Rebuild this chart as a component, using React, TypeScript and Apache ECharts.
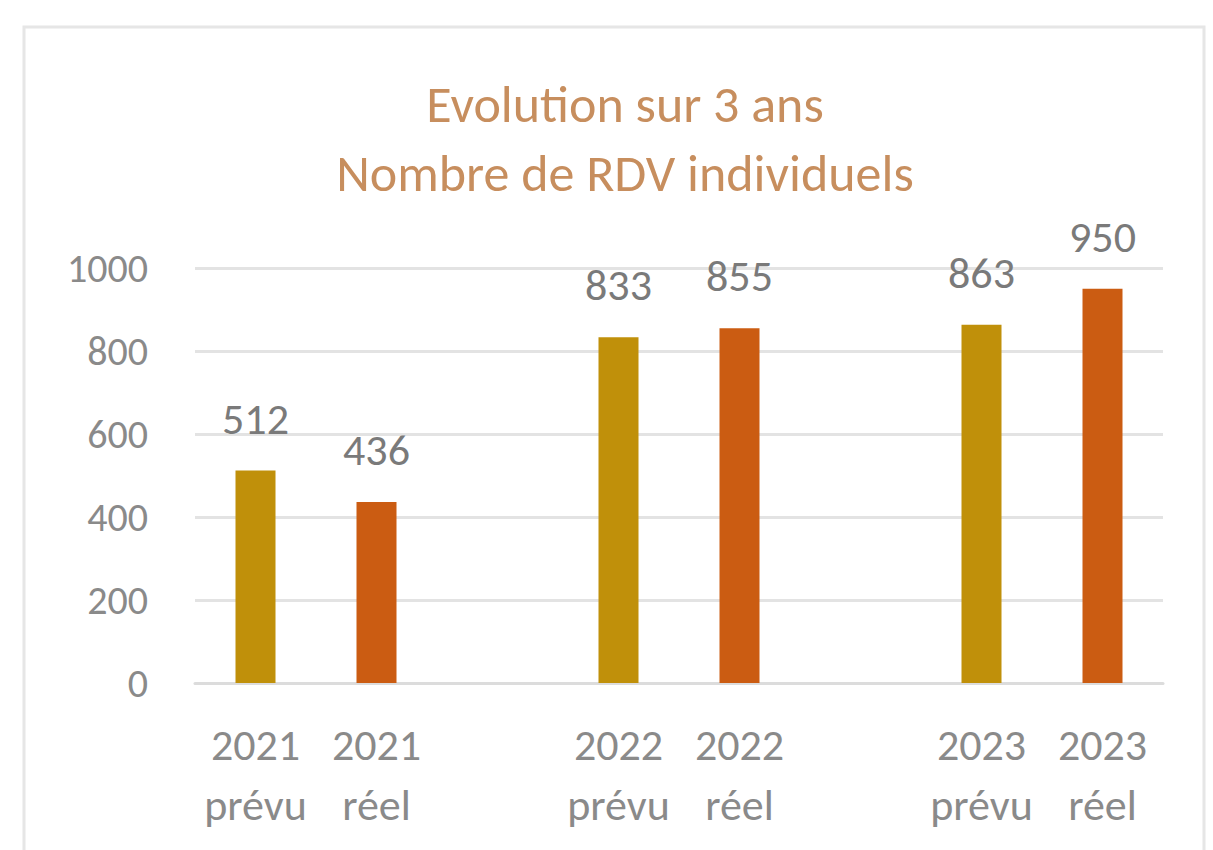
import React, { useEffect, useRef } from "react";
import * as echarts from "echarts";

const categories = ["2021\nprévu", "2021\nréel", "", "2022\nprévu", "2022\nréel", "", "2023\nprévu", "2023\nréel"];
const values: (number | null)[] = [512, 436, null, 833, 855, null, 863, 950];
const kinds = ["prevu", "reel", "", "prevu", "reel", "", "prevu", "reel"];
const yTicks = [0, 200, 400, 600, 800, 1000];
const titleLines = ["Evolution sur 3 ans", "Nombre de RDV individuels"];

const COLORS: Record<string, string> = { prevu: "#C0900A", reel: "#CB5C12" };
const FONT = "Carlito, Lato, 'Noto Sans', sans-serif";

export default function App() {
  const ref = useRef<HTMLDivElement>(null);
  useEffect(() => {
    if (!ref.current) return;
    const chart = echarts.init(ref.current, undefined, { renderer: "svg" });
    chart.setOption({
      animation: false,
      backgroundColor: "#ffffff",
      graphic: [
        {
          type: "rect",
          shape: { x: 24, y: 27, width: 1180, height: 840 },
          style: { fill: "none", stroke: "#e6e6e6", lineWidth: 3 },
          silent: true,
        },
      ],
      title: {
        text: titleLines.join("\n"),
        left: 620,
        textAlign: "center",
        top: 64,
        textStyle: {
          fontFamily: FONT,
          fontSize: 52,
          fontWeight: "normal",
          color: "#C78E5E",
          lineHeight: 69,
        },
      },
      grid: { left: 195, right: 50, top: 268, bottom: 167, containLabel: false },
      xAxis: {
        type: "category",
        data: categories,
        axisLine: { show: true, lineStyle: { color: "#dcdcdc", width: 3 } },
        axisTick: { show: false },
        axisLabel: {
          interval: 0,
          fontFamily: FONT,
          fontSize: 44,
          color: "#8a8a8a",
          lineHeight: 60,
          margin: 32,
        },
      },
      yAxis: {
        type: "value",
        min: yTicks[0],
        max: yTicks[yTicks.length - 1],
        interval: 200,
        axisLine: { show: false },
        axisTick: { show: false },
        splitLine: { lineStyle: { color: "#e3e3e3", width: 3 } },
        axisLabel: {
          fontFamily: FONT,
          fontSize: 40,
          color: "#8a8a8a",
          margin: 47,
          formatter: (v: number) => String(v),
        },
      },
      series: [
        {
          type: "bar",
          barWidth: 40,
          data: values.map((v, i) => ({
            value: v,
            itemStyle: { color: COLORS[kinds[i]] || "#000" },
          })),
          label: {
            show: true,
            position: "top",
            distance: 30,
            fontFamily: FONT,
            fontSize: 44,
            color: "#7a7a7a",
          },
        },
      ],
    });
    return () => chart.dispose();
  }, []);
  return (
    <div
      ref={ref}
      style={{ position: "fixed", left: 0, top: 0, width: 1213, height: 850 }}
    />
  );
}
